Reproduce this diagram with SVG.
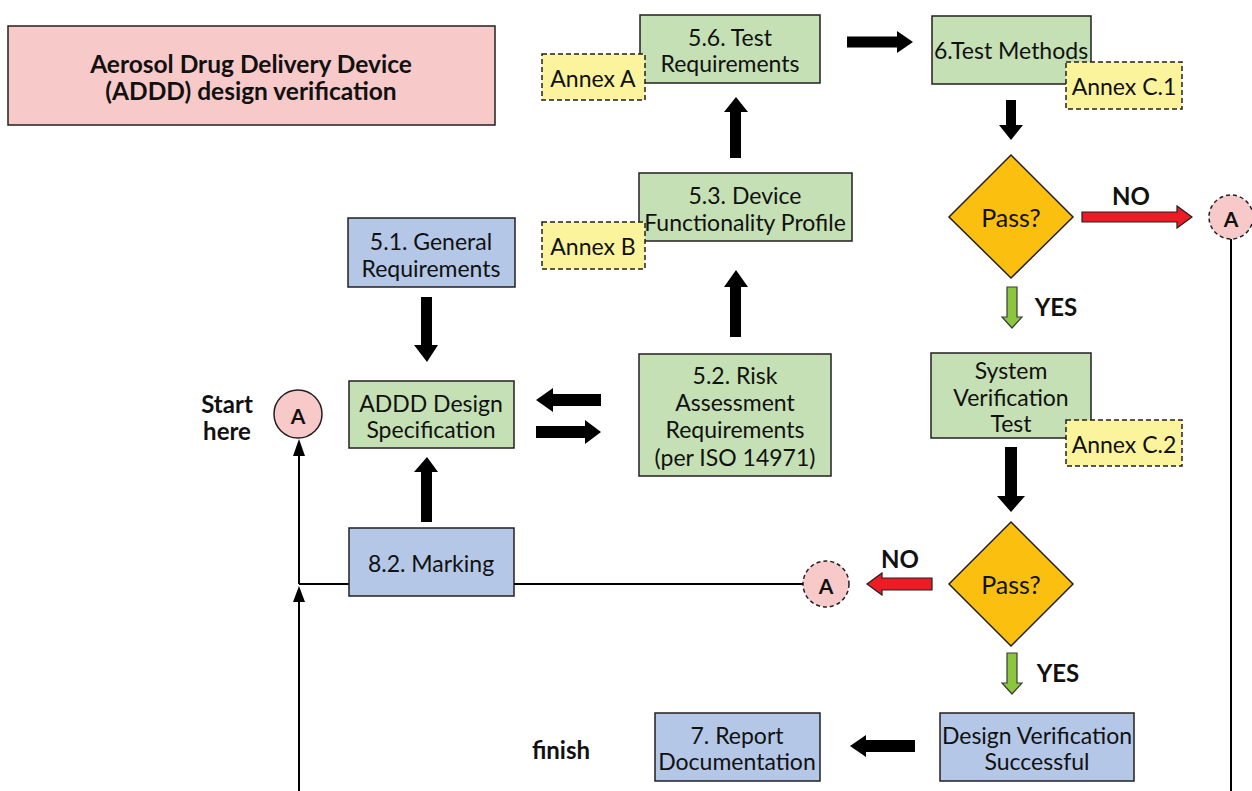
<svg xmlns="http://www.w3.org/2000/svg" width="1252" height="791" viewBox="0 0 1252 791">
<style>
.box{stroke:#231f20;stroke-width:1.5}
.g{fill:#c5e0b4}.b{fill:#b4c7e7}.p{fill:#f8c9c9}
.ann{fill:#fbf49c;stroke:#231f20;stroke-width:1.5;stroke-dasharray:5,3}
.dia{fill:#fbbf10;stroke:#231f20;stroke-width:1.5}
.t{font-family:Lato,"Open Sans",sans-serif;font-size:23px;fill:#111;text-anchor:middle;dominant-baseline:central}
.bt{font-family:Lato,"Open Sans",sans-serif;font-size:24px;font-weight:bold;fill:#111;text-anchor:middle;dominant-baseline:central}
.blk{fill:#000}
.red{fill:#ed1c24;stroke:#231f20;stroke-width:1.2}
.grn{fill:#8cc63f;stroke:#3a3a3a;stroke-width:1.2}
.ln{fill:none;stroke:#000;stroke-width:2}
.con{fill:#f8c9c9;stroke:#231f20;stroke-width:1.5}
</style>
<rect width="1252" height="791" fill="#fff"/>

<g id="title">
<rect class="box p" x="8" y="26" width="487" height="99"/>
<text class="bt" x="251" y="63" style="font-size:24.5px">Aerosol Drug Delivery Device</text>
<text class="bt" x="251" y="90" style="font-size:24.5px">(ADDD) design verification</text>
</g>

<g id="connectors">
<polygon class="blk" points="847,36.5 897,36.5 897,31 913,42 897,53 897,47.5 847,47.5"/>
<polygon class="blk" points="1006,100 1016,100 1016,125 1023,125 1011,140 999,125 1006,125"/>
<polygon class="red" points="1082,212 1177,212 1177,206 1192,217 1177,228 1177,222 1082,222"/>
<polygon class="grn" points="1007,287 1017,287 1017,317 1022,317 1012,328 1002,317 1007,317"/>
<polygon class="blk" points="1005,447 1017,447 1017,496 1025,496 1011,512 997,496 1005,496"/>
<polygon class="red" points="932,578 882,578 882,573 867,584 882,595 882,590 932,590"/>
<polygon class="grn" points="1007,653 1017,653 1017,683 1022,683 1012,694 1002,683 1007,683"/>
<polygon class="blk" points="915,740 866,740 866,735 850,746 866,757 866,752 915,752"/>
<polygon class="blk" points="421,522 432,522 432,472 438,472 427,457 414,472 421,472"/>
<polygon class="blk" points="421,297 432,297 432,345 438,345 427,362 414,345 421,345"/>
<polygon class="blk" points="601,394 553,394 553,388 536,400 553,412 553,406 601,406"/>
<polygon class="blk" points="536,426 585,426 585,420 601,432 585,444 585,438 536,438"/>
<polygon class="blk" points="730,337 741,337 741,287 748,287 736,270 724,287 730,287"/>
<polygon class="blk" points="730,158 741,158 741,112 748,112 736,97 724,112 730,112"/>
<line class="ln" x1="1231" y1="239" x2="1231" y2="791"/>
<line class="ln" x1="299" y1="584" x2="803" y2="584"/>
<line class="ln" x1="299" y1="791" x2="299" y2="596"/>
<polygon class="blk" points="299,586 305,602 293,602"/>
<line class="ln" x1="299" y1="584" x2="299" y2="452"/>
<polygon class="blk" points="299,439 305,456 293,456"/>
<text class="bt" x="1131" y="195">NO</text>
<text class="bt" x="1056" y="306">YES</text>
<text class="bt" x="900" y="558">NO</text>
<text class="bt" x="1058" y="672">YES</text>
</g>

<g id="n56">
<rect class="box g" x="640" y="15" width="180" height="68"/>
<text class="t" x="730" y="37">5.6. Test</text>
<text class="t" x="730" y="63">Requirements</text>
</g>
<g id="annexA">
<rect class="ann" x="542" y="54" width="103" height="46"/>
<text class="t" x="593" y="78">Annex A</text>
</g>

<g id="n6">
<rect class="box g" x="932" y="16" width="159" height="68"/>
<text class="t" x="1011" y="50">6.Test Methods</text>
</g>
<g id="annexC1">
<rect class="ann" x="1066" y="62" width="116" height="47"/>
<text class="t" x="1124" y="86">Annex C.1</text>
</g>

<g id="pass1">
<polygon class="dia" points="1011,155 1073,217 1011,278 949,217"/>
<text class="t" x="1011" y="217" style="font-size:25px">Pass?</text>
</g>
<g id="A1">
<circle class="con" cx="1231" cy="217" r="22" stroke-dasharray="4,3"/>
<text class="bt" x="1231" y="218" style="font-size:21px">A</text>
</g>

<g id="n53">
<rect class="box g" x="639" y="173" width="213" height="68"/>
<text class="t" x="745" y="195">5.3. Device</text>
<text class="t" x="745" y="222">Functionality Profile</text>
</g>
<g id="annexB">
<rect class="ann" x="542" y="222" width="103" height="47"/>
<text class="t" x="593" y="246">Annex B</text>
</g>

<g id="n51">
<rect class="box b" x="348" y="218" width="167" height="69"/>
<text class="t" x="431" y="241">5.1. General</text>
<text class="t" x="431" y="268">Requirements</text>
</g>

<g id="n52">
<rect class="box g" x="639" y="354" width="192" height="122"/>
<text class="t" x="735" y="375">5.2. Risk</text>
<text class="t" x="735" y="402">Assessment</text>
<text class="t" x="735" y="429">Requirements</text>
<text class="t" x="735" y="457">(per ISO 14971)</text>
</g>

<g id="sysver">
<rect class="box g" x="931" y="353" width="160" height="85"/>
<text class="t" x="1011" y="370">System</text>
<text class="t" x="1011" y="397">Verification</text>
<text class="t" x="1011" y="423">Test</text>
</g>
<g id="annexC2">
<rect class="ann" x="1066" y="420" width="116" height="46"/>
<text class="t" x="1124" y="444">Annex C.2</text>
</g>

<g id="start">
<text class="bt" x="227" y="403">Start</text>
<text class="bt" x="227" y="430">here</text>
</g>
<g id="A0">
<circle class="con" cx="298" cy="414" r="24"/>
<text class="bt" x="298" y="415" style="font-size:21px">A</text>
</g>

<g id="addd">
<rect class="box g" x="349" y="381" width="165" height="67"/>
<text class="t" x="431" y="403">ADDD Design</text>
<text class="t" x="431" y="429">Specification</text>
</g>

<g id="marking">
<rect class="box b" x="349" y="528" width="165" height="68"/>
<text class="t" x="431" y="563">8.2. Marking</text>
</g>

<g id="A2">
<circle class="con" cx="826" cy="584" r="23" stroke-dasharray="4,3"/>
<text class="bt" x="826" y="585" style="font-size:21px">A</text>
</g>

<g id="pass2">
<polygon class="dia" points="1011,522 1073,584 1011,646 949,584"/>
<text class="t" x="1011" y="584" style="font-size:25px">Pass?</text>
</g>

<g id="dvs">
<rect class="box b" x="940" y="713" width="194" height="68"/>
<text class="t" x="1037" y="735">Design Verification</text>
<text class="t" x="1037" y="761">Successful</text>
</g>

<g id="report">
<rect class="box b" x="655" y="713" width="165" height="68"/>
<text class="t" x="737" y="735">7. Report</text>
<text class="t" x="737" y="761">Documentation</text>
</g>

<g id="finish">
<text class="bt" x="561" y="749">finish</text>
</g>
</svg>
